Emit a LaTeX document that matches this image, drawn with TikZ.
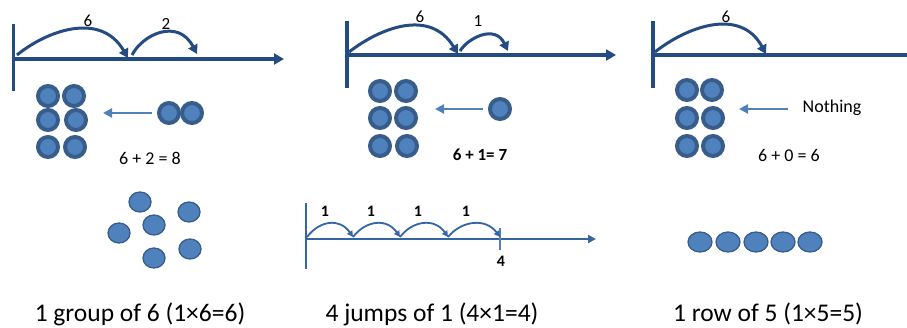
\documentclass[tikz,border=0pt]{standalone}
\usepackage{fontspec}
\setmainfont{Carlito}
\usetikzlibrary{arrows.meta,shapes.geometric}
\definecolor{axisblue}{HTML}{244C82}
\definecolor{ringblue}{HTML}{385D8A}
\definecolor{dotblue}{HTML}{4F81BD}
\definecolor{thinblue}{HTML}{3565A3}
\tikzset{
  axisline/.style={draw=axisblue, line width=3.2pt},
  axisarrow/.style={axisline, -{Triangle[length=10pt,width=11pt]}},
  jumparc/.style={draw=axisblue, line width=3pt, -{Triangle[length=9pt,width=10pt]}},
  ringdot/.style={circle, draw=ringblue, fill=dotblue, line width=4pt, minimum size=20pt, inner sep=0pt},
  plaindot/.style={ellipse, draw=ringblue, fill=dotblue, line width=1.3pt, inner sep=0pt},
  moveline/.style={draw=dotblue, line width=2.2pt, -{Triangle[length=9pt,width=9pt]}},
  smallarc/.style={draw=thinblue, line width=1.8pt, -{Triangle[length=6pt,width=6pt]}},
  thinaxis/.style={draw=thinblue, line width=2.2pt},
  jumplbl/.style={font=\fontsize{17}{20}\selectfont},
  eqlbl/.style={font=\fontsize{18}{22}\selectfont},
  boldlbl/.style={font=\fontsize{16}{19}\selectfont\bfseries},
  caption/.style={font=\fontsize{25.5}{30}\selectfont}
}
\begin{document}
\begin{tikzpicture}[x=1pt,y=-1pt]
\useasboundingbox (0,0) rectangle (907,327);
% ---------- Panel 1 ----------
\coordinate (p1top) at (13.5,24); \coordinate (p1bot) at (13.5,91);
\coordinate (p1o) at (13.5,59); \coordinate (p1end) at (284,59);
\draw[axisline] (p1top) -- (p1bot);
\draw[axisarrow] (p1o) -- (p1end);
\coordinate (p1a) at (17,55); \coordinate (p1b) at (128,58);
\coordinate (p1c) at (132,55); \coordinate (p1d) at (197,54);
\draw[jumparc] (p1a) .. controls (45,32) and (100,10) .. (p1b);
\draw[jumparc] (p1c) .. controls (143,34) and (178,18) .. (p1d);
\node[jumplbl] (p1l6) at (88,21) {6};
\node[jumplbl] (p1l2) at (166,24) {2};
\node[ringdot] (p1d1) at (48,96) {};
\node[ringdot] (p1d2) at (74,96) {};
\node[ringdot] (p1d3) at (48,120) {};
\node[ringdot] (p1d4) at (76,120) {};
\node[ringdot] (p1d5) at (48,147) {};
\node[ringdot] (p1d6) at (75,147) {};
\node[ringdot] (p1e1) at (169,113) {};
\node[ringdot] (p1e2) at (192,113) {};
\coordinate (p1m1) at (152,113); \coordinate (p1m2) at (103,113);
\draw[moveline] (p1m1) -- (p1m2);
\node[eqlbl] (p1eq) at (150,158) {6 + 2 = 8};
% ---------- Panel 2 ----------
\coordinate (p2top) at (347,21); \coordinate (p2bot) at (347,88);
\coordinate (p2o) at (347,55); \coordinate (p2end) at (616,55);
\draw[axisline] (p2top) -- (p2bot);
\draw[axisarrow] (p2o) -- (p2end);
\coordinate (p2a) at (349,52); \coordinate (p2b) at (458,54);
\coordinate (p2c) at (460,51); \coordinate (p2d) at (508,51);
\draw[jumparc] (p2a) .. controls (380,28) and (430,8) .. (p2b);
\draw[jumparc] (p2c) .. controls (468,38) and (495,24) .. (p2d);
\node[jumplbl] (p2l6) at (420,17) {6};
\node[jumplbl] (p2l1) at (478,21) {1};
\node[ringdot] (p2d1) at (380,91) {};
\node[ringdot] (p2d2) at (406,91) {};
\node[ringdot] (p2d3) at (380,118) {};
\node[ringdot] (p2d4) at (406,118) {};
\node[ringdot] (p2d5) at (380,146) {};
\node[ringdot] (p2d6) at (407,146) {};
\node[ringdot] (p2e1) at (500,109) {};
\coordinate (p2m1) at (483,109); \coordinate (p2m2) at (435,109);
\draw[moveline] (p2m1) -- (p2m2);
\node[eqlbl,font=\fontsize{17}{20}\selectfont\bfseries] (p2eq) at (480,155) {6 + 1= 7};
% ---------- Panel 3 ----------
\coordinate (p3top) at (653,21); \coordinate (p3bot) at (653,88);
\coordinate (p3o) at (653,55); \coordinate (p3end) at (910,55);
\draw[axisline] (p3top) -- (p3bot);
\draw[axisline] (p3o) -- (p3end);
\coordinate (p3a) at (655,52); \coordinate (p3b) at (766,54);
\draw[jumparc] (p3a) .. controls (685,28) and (740,6) .. (p3b);
\node[jumplbl] (p3l6) at (726,17) {6};
\node[ringdot] (p3d1) at (687,90) {};
\node[ringdot] (p3d2) at (712,90) {};
\node[ringdot] (p3d3) at (687,118) {};
\node[ringdot] (p3d4) at (713,118) {};
\node[ringdot] (p3d5) at (687,146) {};
\node[ringdot] (p3d6) at (713,146) {};
\coordinate (p3m1) at (788,109); \coordinate (p3m2) at (739,109);
\draw[moveline] (p3m1) -- (p3m2);
\node[eqlbl] (p3n) at (832,108) {Nothing};
\node[eqlbl] (p3eq) at (789,155) {6 + 0 = 6};
% ---------- Panel 4 ----------
\foreach \n/\x/\y in {a/140/202, b/189/212, c/154/225, d/119/233, e/190/249, f/154/258}
  \node[plaindot, minimum width=22pt, minimum height=20pt] (p4\n) at (\x,\y) {};
\node[caption] (p4cap) at (140,314) {1 group of 6 (1×6=6)};
% ---------- Panel 5 ----------
\coordinate (p5top) at (306,203); \coordinate (p5bot) at (306,269);
\coordinate (p5o) at (306,239); \coordinate (p5end) at (596,239);
\draw[thinaxis] (p5top) -- (p5bot);
\draw[thinaxis, -{Triangle[length=8pt,width=8pt]}] (p5o) -- (p5end);
\coordinate (p5t1) at (500,228); \coordinate (p5t2) at (500,250);
\draw[draw=dotblue, line width=1.5pt] (p5t1) -- (p5t2);
\coordinate (j0) at (307,237); \coordinate (j1) at (353,237);
\coordinate (j2) at (400,237); \coordinate (j3) at (448,237);
\coordinate (j4) at (500,237);
\draw[smallarc] (j0) .. controls (320,220) and (340,218) .. (j1);
\draw[smallarc] (j1) .. controls (366,220) and (387,218) .. (j2);
\draw[smallarc] (j2) .. controls (413,220) and (435,218) .. (j3);
\draw[smallarc] (j3) .. controls (462,220) and (486,218) .. (j4);
\node[boldlbl] (p5l1) at (325,211) {1};
\node[boldlbl] (p5l2) at (371,211) {1};
\node[boldlbl] (p5l3) at (418,211) {1};
\node[boldlbl] (p5l4) at (466,211) {1};
\node[boldlbl] (p5l5) at (501,261) {4};
\node[caption] (p5cap) at (432,314) {4 jumps of 1 (4×1=4)};
% ---------- Panel 6 ----------
\foreach \n/\x in {a/700, b/728, c/756, d/783, e/810}
  \node[plaindot, minimum width=24pt, minimum height=20pt] (p6\n) at (\x,242) {};
\node[caption] (p6cap) at (768,314) {1 row of 5 (1×5=5)};
\end{tikzpicture}
\end{document}
